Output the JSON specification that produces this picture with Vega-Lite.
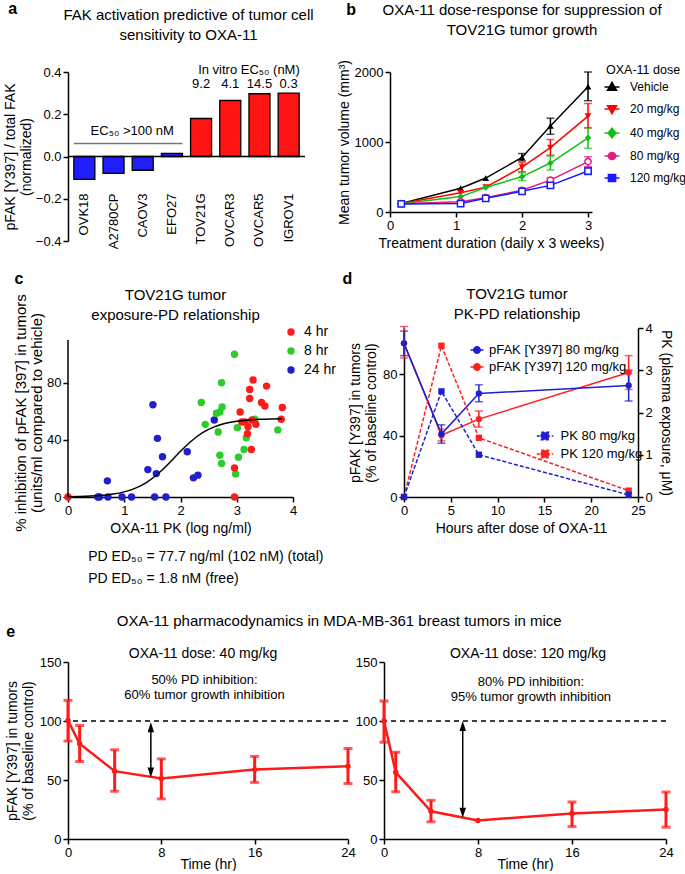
{
  "$schema": "https://vega.github.io/schema/vega-lite/v6.json",
  "padding": {"left": 3, "top": 0, "right": 0, "bottom": 0},
  "background": "white",
  "spacing": 21,
  "resolve": {"scale": {"color": "independent"}},
  "config": {
    "font": "Liberation Sans",
    "view": {"stroke": null},
    "axis": {"grid": false, "domainColor": "black", "domainWidth": 1.5, "tickColor": "black", "tickWidth": 1.5, "tickSize": 5, "labelColor": "black", "labelFontSize": 13, "labelPadding": 2, "labelFlush": false, "labelOverlap": false, "titleColor": "black", "titleFontSize": 14, "titleFontWeight": "normal", "titleLineHeight": 16},
    "legend": {"labelFontSize": 13, "titleFontSize": 13, "titleFontWeight": "normal", "labelColor": "black", "titleColor": "black", "padding": 0},
    "title": {"fontSize": 15, "fontWeight": "normal", "color": "black", "offset": 0, "lineHeight": 20}
  },
  "vconcat": [
    {
      "title": {"text": "a", "anchor": "start", "frame": "bounds", "fontWeight": "bold", "fontSize": 16, "dx": 5, "offset": -15},
      "resolve": {"scale": {"color": "independent"}},
      "vconcat": [{
        "title": {"text": "b", "anchor": "start", "frame": "bounds", "fontWeight": "bold", "fontSize": 16, "dx": 343, "offset": -15},
        "resolve": {"scale": {"color": "independent"}},
        "vconcat": [{
          "bounds": "flush",
          "spacing": 85,
          "resolve": {"scale": {"color": "independent"}},
          "hconcat": [
            {
              "width": 237, "height": 169,
              "title": {"text": ["FAK activation predictive of tumor cell", "sensitivity to OXA-11"], "frame": "group", "offset": 21, "dx": 2},
              "data": {"values": [
                {"cell": "OVK18", "value": -0.108, "group": "low"},
                {"cell": "A2780CP", "value": -0.08, "group": "low"},
                {"cell": "CAOV3", "value": -0.065, "group": "low"},
                {"cell": "EFO27", "value": 0.015, "group": "low"},
                {"cell": "TOV21G", "value": 0.18, "group": "high", "ec50": "9.2"},
                {"cell": "OVCAR3", "value": 0.265, "group": "high", "ec50": "4.1"},
                {"cell": "OVCAR5", "value": 0.297, "group": "high", "ec50": "14.5"},
                {"cell": "IGROV1", "value": 0.3, "group": "high", "ec50": "0.3"}
              ]},
              "layer": [
                {"mark": {"type": "bar", "stroke": "black", "strokeWidth": 1.3},
                 "encoding": {
                   "x": {"field": "cell", "type": "nominal", "sort": null, "axis": null, "scale": {"paddingInner": 0.28, "paddingOuter": 0.2}},
                   "y": {"field": "value", "type": "quantitative", "scale": {"domain": [-0.4, 0.4], "nice": false, "zero": false}, "axis": {"values": [-0.4, -0.2, 0, 0.2, 0.4], "format": ".1f", "title": ["pFAK [Y397] / total FAK", "(normalized)"], "titlePadding": 2}},
                   "color": {"field": "group", "type": "nominal", "scale": {"domain": ["low", "high"], "range": ["#1e1eff", "#ff1414"]}, "legend": null}}},
                {"data": {"values": [{}]}, "mark": {"type": "rule", "strokeWidth": 1.5, "color": "black"}, "encoding": {"y": {"datum": 0}}},
                {"mark": {"type": "text", "angle": 270, "align": "right", "baseline": "middle", "fontSize": 13, "color": "black"},
                 "encoding": {"x": {"field": "cell", "type": "nominal", "sort": null}, "y": {"datum": -0.175}, "text": {"field": "cell"}}},
                {"transform": [{"filter": "datum.ec50 != null"}], "mark": {"type": "text", "baseline": "middle", "fontSize": 13, "color": "black"},
                 "encoding": {"x": {"field": "cell", "type": "nominal", "sort": null}, "y": {"datum": 0.345}, "text": {"field": "ec50"}}},
                {"data": {"values": [{}]}, "mark": {"type": "text", "baseline": "middle", "fontSize": 13, "color": "black"},
                 "encoding": {"x": {"datum": "OVCAR5", "bandPosition": 0}, "y": {"datum": 0.41}, "text": {"value": "In vitro EC₅₀ (nM)"}}},
                {"data": {"values": [{}]}, "mark": {"type": "text", "baseline": "middle", "fontSize": 13, "color": "black"},
                 "encoding": {"x": {"datum": "CAOV3", "bandPosition": 0}, "y": {"datum": 0.123}, "text": {"value": "EC₅₀  >100 nM"}}},
                {"data": {"values": [{}]}, "mark": {"type": "rule", "strokeWidth": 1.5, "color": "#777777"},
                 "encoding": {"x": {"datum": "OVK18", "bandPosition": 0}, "x2": {"datum": "EFO27", "bandPosition": 1}, "y": {"datum": 0.062}}}
              ]
            },
            {
              "width": 202, "height": 140,
              "title": {"text": ["OXA-11 dose-response for suppression of", "TOV21G tumor growth"], "frame": "bounds", "offset": 22, "dx": 10},
              "data": {"values": [
                {"dose": "Vehicle", "t": 0.17, "vol": 120},
                {"dose": "Vehicle", "t": 1.07, "vol": 340},
                {"dose": "Vehicle", "t": 1.45, "vol": 485},
                {"dose": "Vehicle", "t": 2.0, "vol": 780, "lo": 730, "hi": 835},
                {"dose": "Vehicle", "t": 2.43, "vol": 1230, "lo": 1110, "hi": 1340},
                {"dose": "Vehicle", "t": 3.0, "vol": 1790, "lo": 1590, "hi": 2000},
                {"dose": "20 mg/kg", "t": 0.17, "vol": 120},
                {"dose": "20 mg/kg", "t": 1.07, "vol": 275},
                {"dose": "20 mg/kg", "t": 1.45, "vol": 355},
                {"dose": "20 mg/kg", "t": 2.0, "vol": 640, "lo": 575, "hi": 705},
                {"dose": "20 mg/kg", "t": 2.43, "vol": 920, "lo": 810, "hi": 1035},
                {"dose": "20 mg/kg", "t": 3.0, "vol": 1370, "lo": 1200, "hi": 1550},
                {"dose": "40 mg/kg", "t": 0.17, "vol": 118},
                {"dose": "40 mg/kg", "t": 1.07, "vol": 220},
                {"dose": "40 mg/kg", "t": 1.45, "vol": 350},
                {"dose": "40 mg/kg", "t": 2.0, "vol": 505, "lo": 450, "hi": 560},
                {"dose": "40 mg/kg", "t": 2.43, "vol": 700, "lo": 600, "hi": 800},
                {"dose": "40 mg/kg", "t": 3.0, "vol": 1060, "lo": 910, "hi": 1205},
                {"dose": "80 mg/kg", "t": 0.17, "vol": 118},
                {"dose": "80 mg/kg", "t": 1.07, "vol": 145},
                {"dose": "80 mg/kg", "t": 1.45, "vol": 205},
                {"dose": "80 mg/kg", "t": 2.0, "vol": 310, "lo": 290, "hi": 330},
                {"dose": "80 mg/kg", "t": 2.43, "vol": 455, "lo": 425, "hi": 485},
                {"dose": "80 mg/kg", "t": 3.0, "vol": 720, "lo": 650, "hi": 790},
                {"dose": "120 mg/kg", "t": 0.17, "vol": 115},
                {"dose": "120 mg/kg", "t": 1.07, "vol": 120},
                {"dose": "120 mg/kg", "t": 1.45, "vol": 195},
                {"dose": "120 mg/kg", "t": 2.0, "vol": 295, "lo": 275, "hi": 315},
                {"dose": "120 mg/kg", "t": 2.43, "vol": 380, "lo": 350, "hi": 410},
                {"dose": "120 mg/kg", "t": 3.0, "vol": 585, "lo": 535, "hi": 635}
              ]},
              "layer": [
                {"mark": {"type": "line", "strokeWidth": 1.5},
                 "encoding": {
                   "x": {"field": "t", "type": "quantitative", "scale": {"domain": [0, 3.06], "nice": false}, "axis": {"values": [0, 1, 2, 3], "format": "d", "title": "Treatment duration (daily x 3 weeks)"}},
                   "y": {"field": "vol", "type": "quantitative", "title": "Mean tumor volume (mm³)", "scale": {"domain": [0, 2000], "nice": false}, "axis": {"values": [0, 500, 1000, 1500, 2000], "format": "d", "titlePadding": 3}},
                   "color": {"field": "dose", "type": "nominal",
                     "scale": {"domain": ["Vehicle", "20 mg/kg", "40 mg/kg", "80 mg/kg", "120 mg/kg"], "range": ["#000000", "#ff0000", "#10c010", "#e6197f", "#1a1aff"]},
                     "legend": {"title": "OXA-11 dose", "orient": "none", "legendX": 216, "legendY": -8.5, "titlePadding": 5, "rowPadding": 8, "symbolSize": 36, "symbolStrokeWidth": 1.5, "labelOffset": 12, "labelFontSize": 12, "titleFontSize": 12.5,
                       "encode": {"symbols": {"update": {
                         "shape": {"signal": "datum.value == 'Vehicle' ? 'M-2.5,0H2.5M-1.5,1.1L0,-1.6L1.5,1.1Z' : datum.value == '20 mg/kg' ? 'M-2.5,0H2.5M-1.5,-1.1L0,1.6L1.5,-1.1Z' : datum.value == '40 mg/kg' ? 'M-2.5,0H2.5M0,-1.6L1.3,0L0,1.6L-1.3,0Z' : datum.value == '80 mg/kg' ? 'M-2.5,0H-1.2M1.2,0H2.5M1.2,0A1.2,1.2,0,1,1,-1.2,0A1.2,1.2,0,1,1,1.2,0Z' : 'M-2.5,0H-1.2M1.2,0H2.5M-1.2,-1.2H1.2V1.2H-1.2Z'"},
                         "fill": {"signal": "datum.value == 'Vehicle' ? '#000000' : datum.value == '20 mg/kg' ? '#ff0000' : datum.value == '40 mg/kg' ? '#10c010' : '#ffffff'"},
                         "stroke": {"signal": "datum.value == 'Vehicle' ? '#000000' : datum.value == '20 mg/kg' ? '#ff0000' : datum.value == '40 mg/kg' ? '#10c010' : datum.value == '80 mg/kg' ? '#e6197f' : '#1a1aff'"},
                         "strokeWidth": {"value": 1.5},
                         "opacity": {"value": 1}
                       }}}}}}},
                {"transform": [{"filter": "datum.lo != null"}], "mark": {"type": "errorbar", "ticks": {"size": 8}, "thickness": 1.5},
                 "encoding": {"x": {"field": "t", "type": "quantitative"}, "y": {"field": "lo", "type": "quantitative", "title": "Mean tumor volume (mm³)"}, "y2": {"field": "hi"}, "color": {"field": "dose", "type": "nominal"}}},
                {"transform": [{"filter": "datum.dose == 'Vehicle'"}], "mark": {"type": "point", "shape": "triangle-up", "filled": true, "size": 45, "opacity": 1},
                 "encoding": {"x": {"field": "t", "type": "quantitative"}, "y": {"field": "vol", "type": "quantitative", "title": "Mean tumor volume (mm³)"}, "color": {"field": "dose", "type": "nominal"}}},
                {"transform": [{"filter": "datum.dose == '20 mg/kg'"}], "mark": {"type": "point", "shape": "triangle-down", "filled": true, "size": 45, "opacity": 1},
                 "encoding": {"x": {"field": "t", "type": "quantitative"}, "y": {"field": "vol", "type": "quantitative", "title": "Mean tumor volume (mm³)"}, "color": {"field": "dose", "type": "nominal"}}},
                {"transform": [{"filter": "datum.dose == '40 mg/kg'"}], "mark": {"type": "point", "shape": "diamond", "filled": true, "size": 45, "opacity": 1},
                 "encoding": {"x": {"field": "t", "type": "quantitative"}, "y": {"field": "vol", "type": "quantitative", "title": "Mean tumor volume (mm³)"}, "color": {"field": "dose", "type": "nominal"}}},
                {"transform": [{"filter": "datum.dose == '80 mg/kg'"}], "mark": {"type": "point", "shape": "circle", "filled": false, "fill": "white", "size": 40, "strokeWidth": 1.5, "opacity": 1},
                 "encoding": {"x": {"field": "t", "type": "quantitative"}, "y": {"field": "vol", "type": "quantitative", "title": "Mean tumor volume (mm³)"}, "color": {"field": "dose", "type": "nominal"}}},
                {"transform": [{"filter": "datum.dose == '120 mg/kg'"}], "mark": {"type": "point", "shape": "square", "filled": false, "fill": "white", "size": 40, "strokeWidth": 1.5, "opacity": 1},
                 "encoding": {"x": {"field": "t", "type": "quantitative"}, "y": {"field": "vol", "type": "quantitative", "title": "Mean tumor volume (mm³)"}, "color": {"field": "dose", "type": "nominal"}}}
              ]
            }
          ]
        }]
      }]
    },
    {
      "title": {"text": "c", "anchor": "start", "frame": "bounds", "fontWeight": "bold", "fontSize": 16, "dx": 1, "offset": -16},
      "resolve": {"scale": {"color": "independent"}},
      "vconcat": [{
        "title": {"text": "d", "anchor": "start", "frame": "bounds", "fontWeight": "bold", "fontSize": 16, "dx": 329, "offset": 0},
        "resolve": {"scale": {"color": "independent"}},
        "vconcat": [{
          "bounds": "flush",
          "spacing": 111,
          "resolve": {"scale": {"color": "independent"}},
          "hconcat": [
            {
              "width": 225, "height": 169,
              "title": {"text": ["TOV21G tumor", "exposure-PD relationship"], "frame": "group", "offset": -29, "dx": -5},
              "layer": [
                {"data": {"values": [
                  {"time": "24 hr", "pk": 1.51, "inh": 64.6}, {"time": "24 hr", "pk": 1.59, "inh": 41.1}, {"time": "24 hr", "pk": 1.68, "inh": 28.2},
                  {"time": "24 hr", "pk": 1.42, "inh": 19.2}, {"time": "24 hr", "pk": 1.57, "inh": 16.4}, {"time": "24 hr", "pk": 0.70, "inh": 11.3},
                  {"time": "24 hr", "pk": 2.12, "inh": 31.7}, {"time": "24 hr", "pk": 2.23, "inh": 13.4}, {"time": "24 hr", "pk": 2.31, "inh": 15.3},
                  {"time": "24 hr", "pk": 2.60, "inh": 54}, {"time": "24 hr", "pk": 0.53, "inh": 0}, {"time": "24 hr", "pk": 0.56, "inh": 0},
                  {"time": "24 hr", "pk": 0.71, "inh": 0}, {"time": "24 hr", "pk": 0.96, "inh": 0}, {"time": "24 hr", "pk": 1.13, "inh": 0},
                  {"time": "24 hr", "pk": 1.54, "inh": 0}, {"time": "24 hr", "pk": 1.74, "inh": 0},
                  {"time": "8 hr", "pk": 2.96, "inh": 100}, {"time": "8 hr", "pk": 2.73, "inh": 80}, {"time": "8 hr", "pk": 2.37, "inh": 66.2},
                  {"time": "8 hr", "pk": 2.64, "inh": 58.7}, {"time": "8 hr", "pk": 2.74, "inh": 63.1}, {"time": "8 hr", "pk": 2.70, "inh": 59.6},
                  {"time": "8 hr", "pk": 2.44, "inh": 50.9}, {"time": "8 hr", "pk": 2.67, "inh": 45.5}, {"time": "8 hr", "pk": 2.70, "inh": 29.3},
                  {"time": "8 hr", "pk": 2.73, "inh": 23.5}, {"time": "8 hr", "pk": 2.98, "inh": 16.2}, {"time": "8 hr", "pk": 3.03, "inh": 27.9},
                  {"time": "8 hr", "pk": 3.01, "inh": 48.6}, {"time": "8 hr", "pk": 3.17, "inh": 41.5}, {"time": "8 hr", "pk": 3.13, "inh": 33.3},
                  {"time": "8 hr", "pk": 3.32, "inh": 54.5}, {"time": "8 hr", "pk": 3.73, "inh": 47},
                  {"time": "4 hr", "pk": 0, "inh": 0}, {"time": "4 hr", "pk": 2.96, "inh": 0}, {"time": "4 hr", "pk": 2.96, "inh": 20.4},
                  {"time": "4 hr", "pk": 3.06, "inh": 59.6}, {"time": "4 hr", "pk": 3.09, "inh": 52.6}, {"time": "4 hr", "pk": 3.15, "inh": 52.6},
                  {"time": "4 hr", "pk": 3.20, "inh": 49.3}, {"time": "4 hr", "pk": 3.19, "inh": 44.4}, {"time": "4 hr", "pk": 3.27, "inh": 54},
                  {"time": "4 hr", "pk": 3.34, "inh": 51}, {"time": "4 hr", "pk": 3.26, "inh": 33.3}, {"time": "4 hr", "pk": 3.29, "inh": 82},
                  {"time": "4 hr", "pk": 3.23, "inh": 75.4}, {"time": "4 hr", "pk": 3.23, "inh": 69}, {"time": "4 hr", "pk": 3.53, "inh": 77.7},
                  {"time": "4 hr", "pk": 3.44, "inh": 66.2}, {"time": "4 hr", "pk": 3.50, "inh": 63.8}, {"time": "4 hr", "pk": 3.81, "inh": 62.7},
                  {"time": "4 hr", "pk": 3.79, "inh": 54.5}
                ]},
                 "mark": {"type": "circle", "size": 55, "opacity": 1},
                 "encoding": {
                   "x": {"field": "pk", "type": "quantitative", "scale": {"domain": [0, 4], "nice": false}, "axis": {"values": [0, 1, 2, 3, 4], "format": "d", "title": "OXA-11 PK (log ng/ml)"}},
                   "y": {"field": "inh", "type": "quantitative", "scale": {"domain": [0, 118.4], "nice": false}, "axis": {"values": [0, 20, 40, 60, 80, 100], "format": "d", "domain": false, "title": ["% inhibition of pFAK [397] in tumors", "(units/ml compared to vehicle)"], "titleFontSize": 15, "titlePadding": 2}},
                   "color": {"field": "time", "type": "nominal", "scale": {"domain": ["4 hr", "8 hr", "24 hr"], "range": ["#ff1a1a", "#2dcc2d", "#2020c8"]},
                     "legend": {"title": null, "orient": "none", "legendX": 216, "legendY": -3, "symbolSize": 55, "symbolType": "circle", "rowPadding": 5, "labelOffset": 6, "labelFontSize": 14}}}},
                {"data": {"values": [
                  {"pk": 0, "inh": 0.2}, {"pk": 0.2, "inh": 0.35}, {"pk": 0.4, "inh": 0.63}, {"pk": 0.6, "inh": 1.13}, {"pk": 0.8, "inh": 2.03},
                  {"pk": 1.0, "inh": 3.6}, {"pk": 1.2, "inh": 6.2}, {"pk": 1.4, "inh": 10.3}, {"pk": 1.6, "inh": 16.3}, {"pk": 1.8, "inh": 23.8},
                  {"pk": 2.0, "inh": 32}, {"pk": 2.2, "inh": 39.4}, {"pk": 2.4, "inh": 45.2}, {"pk": 2.6, "inh": 49.1}, {"pk": 2.8, "inh": 51.6},
                  {"pk": 3.0, "inh": 53.1}, {"pk": 3.2, "inh": 53.9}, {"pk": 3.4, "inh": 54.4}, {"pk": 3.6, "inh": 54.7}, {"pk": 3.8, "inh": 54.8}
                ]},
                 "mark": {"type": "line", "color": "black", "strokeWidth": 1.5, "interpolate": "monotone"},
                 "encoding": {"x": {"field": "pk", "type": "quantitative"}, "y": {"field": "inh", "type": "quantitative"}}},
                {"data": {"values": [{}]}, "mark": {"type": "rule", "strokeWidth": 1.5, "color": "black"},
                 "encoding": {"x": {"datum": 0}, "y": {"datum": 0}, "y2": {"datum": 110}}},
                {"data": {"values": [{}]}, "mark": {"type": "text", "align": "left", "baseline": "middle", "fontSize": 14, "color": "black"},
                 "encoding": {"x": {"datum": 0.36}, "y": {"datum": -42}, "text": {"value": "PD ED₅₀ = 77.7 ng/ml (102 nM) (total)"}}},
                {"data": {"values": [{}]}, "mark": {"type": "text", "align": "left", "baseline": "top", "fontSize": 14, "lineHeight": 6, "color": "black"},
                 "encoding": {"x": {"datum": 0.36}, "y": {"datum": -52.7}, "text": {"value": ["PD ED₅₀ = 1.8 nM (free)", " "]}}}
              ]
            },
            {
              "width": 234, "height": 169,
              "title": {"text": ["TOV21G tumor", "PK-PD relationship"], "frame": "group", "offset": 0, "dx": -4},
              "layer": [
                {"data": {"values": [
                  {"s": "pFAK [Y397] 120 mg/kg", "h": 0, "v": 100, "lo": 90.5, "hi": 111},
                  {"s": "pFAK [Y397] 120 mg/kg", "h": 4, "v": 40.2, "lo": 36.5, "hi": 44},
                  {"s": "pFAK [Y397] 120 mg/kg", "h": 8, "v": 50.7, "lo": 45.5, "hi": 56},
                  {"s": "pFAK [Y397] 120 mg/kg", "h": 24, "v": 81, "lo": 70, "hi": 92},
                  {"s": "pFAK [Y397] 80 mg/kg", "h": 0, "v": 100, "lo": 92, "hi": 108},
                  {"s": "pFAK [Y397] 80 mg/kg", "h": 4, "v": 41, "lo": 35, "hi": 47},
                  {"s": "pFAK [Y397] 80 mg/kg", "h": 8, "v": 67.4, "lo": 62, "hi": 73},
                  {"s": "pFAK [Y397] 80 mg/kg", "h": 24, "v": 72.6, "lo": 62.5, "hi": 82.5}
                ]},
                 "encoding": {
                   "x": {"field": "h", "type": "quantitative", "scale": {"domain": [0, 25], "nice": false}, "axis": {"values": [0, 5, 10, 15, 20, 25], "title": "Hours after dose of OXA-11"}},
                   "color": {"field": "s", "type": "nominal", "scale": {"domain": ["pFAK [Y397] 80 mg/kg", "pFAK [Y397] 120 mg/kg"], "range": ["#1f1fd0", "#ff1f1f"]},
                     "legend": {"title": null, "orient": "none", "legendX": 66.5, "legendY": 15.5, "symbolSize": 25, "labelOffset": 5.5, "rowPadding": 3,
                       "symbolType": "M-2.6,0H2.6M1.3,0A1.3,1.3,0,1,1,-1.3,0A1.3,1.3,0,1,1,1.3,0Z",
                       "encode": {"symbols": {"update": {
                         "fill": {"signal": "datum.value == 'pFAK [Y397] 80 mg/kg' ? '#1f1fd0' : '#ff1f1f'"},
                         "stroke": {"signal": "datum.value == 'pFAK [Y397] 80 mg/kg' ? '#1f1fd0' : '#ff1f1f'"},
                         "strokeWidth": {"value": 1.5},
                         "opacity": {"value": 1}}}}}}},
                 "layer": [
                   {"mark": {"type": "line", "strokeWidth": 1.5},
                    "encoding": {"y": {"field": "v", "type": "quantitative", "title": ["pFAK [Y397] in tumors", "(% of baseline control)"], "scale": {"domain": [0, 110], "nice": false}, "axis": {"values": [0, 20, 40, 60, 80, 100], "titlePadding": 4}}}},
                   {"mark": {"type": "errorbar", "ticks": {"size": 8}, "thickness": 1.5},
                    "encoding": {"y": {"field": "lo", "type": "quantitative", "title": ["pFAK [Y397] in tumors", "(% of baseline control)"]}, "y2": {"field": "hi"}}},
                   {"mark": {"type": "point", "shape": "circle", "filled": true, "size": 40, "opacity": 1},
                    "encoding": {"y": {"field": "v", "type": "quantitative", "title": ["pFAK [Y397] in tumors", "(% of baseline control)"]}}}
                 ]},
                {"data": {"values": [
                  {"s": "PK 120 mg/kg", "h": 0, "v": 0}, {"s": "PK 120 mg/kg", "h": 4, "v": 3.58}, {"s": "PK 120 mg/kg", "h": 8, "v": 1.4}, {"s": "PK 120 mg/kg", "h": 24, "v": 0.15},
                  {"s": "PK 80 mg/kg", "h": 0, "v": 0}, {"s": "PK 80 mg/kg", "h": 4, "v": 2.5}, {"s": "PK 80 mg/kg", "h": 8, "v": 1.0}, {"s": "PK 80 mg/kg", "h": 24, "v": 0.05}
                ]},
                 "encoding": {
                   "x": {"field": "h", "type": "quantitative"},
                   "color": {"field": "s", "type": "nominal", "scale": {"domain": ["PK 80 mg/kg", "PK 120 mg/kg"], "range": ["#1f1fd0", "#ff1f1f"]},
                     "legend": {"title": null, "orient": "none", "legendX": 134.5, "legendY": 101.5, "symbolSize": 25, "labelOffset": 9, "rowPadding": 3,
                       "symbolType": "M-3.3,0H3.3M-1.5,-1.5H1.5V1.5H-1.5Z", "symbolDash": [3, 2],
                       "encode": {"symbols": {"update": {
                         "fill": {"signal": "datum.value == 'PK 80 mg/kg' ? '#1f1fd0' : '#ff1f1f'"},
                         "stroke": {"signal": "datum.value == 'PK 80 mg/kg' ? '#1f1fd0' : '#ff1f1f'"},
                         "strokeWidth": {"value": 1.5},
                         "opacity": {"value": 1}}}}}}},
                 "layer": [
                   {"mark": {"type": "line", "strokeWidth": 1.5, "strokeDash": [4, 2]},
                    "encoding": {"y": {"field": "v", "type": "quantitative", "title": "PK (plasma exposure, μM)", "scale": {"domain": [0, 4], "nice": false}, "axis": {"orient": "right", "values": [0, 1, 2, 3, 4], "titlePadding": 6}}}},
                   {"mark": {"type": "square", "size": 40, "opacity": 1},
                    "encoding": {"y": {"field": "v", "type": "quantitative", "title": "PK (plasma exposure, μM)"}}}
                 ]}
              ],
              "resolve": {"scale": {"y": "independent", "color": "independent"}}
            }
          ]
        }]
      }]
    },
    {
      "title": {"text": "e", "anchor": "start", "frame": "bounds", "fontWeight": "bold", "fontSize": 16, "dx": 1, "offset": -26},
      "resolve": {"scale": {"color": "independent"}},
      "vconcat": [{
        "title": {"text": "OXA-11 pharmacodynamics in MDA-MB-361 breast tumors in mice", "fontSize": 15, "offset": 18, "anchor": "middle", "frame": "bounds"},
        "bounds": "flush",
        "spacing": 36,
        "resolve": {"scale": {"color": "independent"}},
        "hconcat": [
          {
            "width": 280, "height": 177,
            "title": {"text": "OXA-11 dose: 40 mg/kg", "fontSize": 14, "frame": "group", "offset": -5, "dx": -5},
            "layer": [
              {"data": {"values": [{}]}, "mark": {"type": "rule", "strokeDash": [5, 4], "strokeWidth": 1.3, "color": "black"}, "encoding": {"y": {"datum": 100}}},
              {"data": {"values": [
                {"t": 0, "v": 100.5, "lo": 83, "hi": 117.5},
                {"t": 1, "v": 80.7, "lo": 65.7, "hi": 96.2},
                {"t": 4, "v": 57.5, "lo": 40.5, "hi": 75.6},
                {"t": 8, "v": 51.2, "lo": 34, "hi": 67.9},
                {"t": 16, "v": 58.8, "lo": 48, "hi": 70},
                {"t": 24, "v": 61.6, "lo": 47, "hi": 76.7}
              ]},
               "encoding": {"x": {"field": "t", "type": "quantitative", "title": "Time (hr)", "scale": {"domain": [0, 24], "nice": false}, "axis": {"values": [0, 8, 16, 24], "titlePadding": -2}}},
               "layer": [
                 {"mark": {"type": "line", "color": "#ff1a1a", "strokeWidth": 2.5},
                  "encoding": {"y": {"field": "v", "type": "quantitative", "title": ["pFAK [Y397] in tumors", "(% of baseline control)"], "scale": {"domain": [0, 150], "nice": false}, "axis": {"values": [0, 50, 100, 150], "titlePadding": 4}}}},
                 {"transform": [{"filter": "datum.lo != null"}], "mark": {"type": "errorbar", "color": "#ff1a1a", "ticks": {"size": 9}, "thickness": 3},
                  "encoding": {"y": {"field": "lo", "type": "quantitative", "title": ["pFAK [Y397] in tumors", "(% of baseline control)"]}, "y2": {"field": "hi"}}},
                 {"mark": {"type": "circle", "color": "#ff1a1a", "size": 30, "opacity": 1},
                  "encoding": {"y": {"field": "v", "type": "quantitative", "title": ["pFAK [Y397] in tumors", "(% of baseline control)"]}}}
               ]},
              {"data": {"values": [{}]}, "mark": {"type": "rule", "strokeWidth": 1.5, "color": "black"},
               "encoding": {"x": {"datum": 7.1}, "y": {"datum": 96}, "y2": {"datum": 55}}},
              {"data": {"values": [{}]}, "mark": {"type": "point", "shape": "M0,-1L0.65,1L-0.65,1Z", "filled": true, "color": "black", "size": 100, "opacity": 1},
               "encoding": {"x": {"datum": 7.1}, "y": {"datum": 94.6}}},
              {"data": {"values": [{}]}, "mark": {"type": "point", "shape": "M0,1L0.65,-1L-0.65,-1Z", "filled": true, "color": "black", "size": 100, "opacity": 1},
               "encoding": {"x": {"datum": 7.1}, "y": {"datum": 56.3}}},
              {"data": {"values": [{}]}, "mark": {"type": "text", "fontSize": 13, "baseline": "middle", "color": "black"},
               "encoding": {"x": {"datum": 11.7}, "y": {"datum": 134.7}, "text": {"value": "50% PD inhibition:"}}},
              {"data": {"values": [{}]}, "mark": {"type": "text", "fontSize": 13, "baseline": "middle", "color": "black"},
               "encoding": {"x": {"datum": 11.7}, "y": {"datum": 121.9}, "text": {"value": "60% tumor growth inhibition"}}}
            ]
          },
          {
            "width": 282, "height": 177,
            "title": {"text": "OXA-11 dose: 120 mg/kg", "fontSize": 14, "frame": "group", "offset": -5, "dx": 3},
            "layer": [
              {"data": {"values": [{}]}, "mark": {"type": "rule", "strokeDash": [5, 4], "strokeWidth": 1.3, "color": "black"}, "encoding": {"y": {"datum": 100}}},
              {"data": {"values": [
                {"t": 0, "v": 100, "lo": 82, "hi": 117},
                {"t": 1, "v": 56.5, "lo": 40, "hi": 73.5},
                {"t": 4, "v": 23.5, "lo": 14.6, "hi": 32.8},
                {"t": 8, "v": 15.7},
                {"t": 16, "v": 21.6, "lo": 10.5, "hi": 31.4},
                {"t": 24, "v": 25, "lo": 10, "hi": 39.8}
              ]},
               "encoding": {"x": {"field": "t", "type": "quantitative", "title": "Time (hr)", "scale": {"domain": [0, 24], "nice": false}, "axis": {"values": [0, 8, 16, 24], "titlePadding": -2}}},
               "layer": [
                 {"mark": {"type": "line", "color": "#ff1a1a", "strokeWidth": 2.5},
                  "encoding": {"y": {"field": "v", "type": "quantitative", "title": null, "scale": {"domain": [0, 150], "nice": false}, "axis": {"values": [0, 50, 100, 150]}}}},
                 {"transform": [{"filter": "datum.lo != null"}], "mark": {"type": "errorbar", "color": "#ff1a1a", "ticks": {"size": 9}, "thickness": 3},
                  "encoding": {"y": {"field": "lo", "type": "quantitative", "title": null}, "y2": {"field": "hi"}}},
                 {"mark": {"type": "circle", "color": "#ff1a1a", "size": 30, "opacity": 1},
                  "encoding": {"y": {"field": "v", "type": "quantitative", "title": null}}}
               ]},
              {"data": {"values": [{}]}, "mark": {"type": "rule", "strokeWidth": 1.5, "color": "black"},
               "encoding": {"x": {"datum": 6.7}, "y": {"datum": 96}, "y2": {"datum": 22}}},
              {"data": {"values": [{}]}, "mark": {"type": "point", "shape": "M0,-1L0.65,1L-0.65,1Z", "filled": true, "color": "black", "size": 100, "opacity": 1},
               "encoding": {"x": {"datum": 6.7}, "y": {"datum": 95.8}}},
              {"data": {"values": [{}]}, "mark": {"type": "point", "shape": "M0,1L0.65,-1L-0.65,-1Z", "filled": true, "color": "black", "size": 100, "opacity": 1},
               "encoding": {"x": {"datum": 6.7}, "y": {"datum": 22.2}}},
              {"data": {"values": [{}]}, "mark": {"type": "text", "fontSize": 13, "baseline": "middle", "color": "black"},
               "encoding": {"x": {"datum": 12.5}, "y": {"datum": 133}, "text": {"value": "80% PD inhibition:"}}},
              {"data": {"values": [{}]}, "mark": {"type": "text", "fontSize": 13, "baseline": "middle", "color": "black"},
               "encoding": {"x": {"datum": 12.5}, "y": {"datum": 120.5}, "text": {"value": "95% tumor growth inhibition"}}}
            ]
          }
        ]
      }]
    }
  ]
}
